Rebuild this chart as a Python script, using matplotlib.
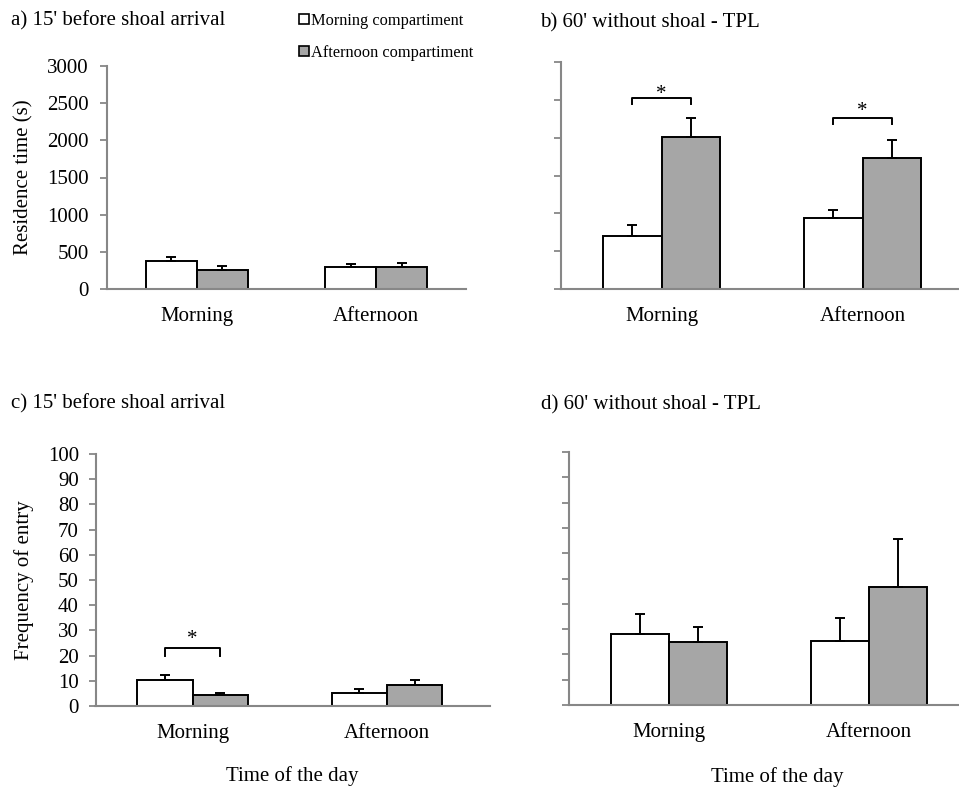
import numpy as np
import matplotlib
matplotlib.use('Agg')
import matplotlib.pyplot as plt
import matplotlib.transforms as mtransforms
from matplotlib.patches import Patch

plt.rcParams['font.family'] = ['Liberation Serif', 'DejaVu Serif']
plt.rcParams['font.size'] = 15

# data
times = ['Morning', 'Afternoon']
series = ['Morning compartiment', 'Afternoon compartiment']

res_15_morning = [375, 300]
res_15_morning_err = [60, 32]
res_15_afternoon = [250, 300]
res_15_afternoon_err = [60, 55]

res_60_morning = [705, 935]
res_60_morning_err = [145, 110]
res_60_afternoon = [2015, 1735]
res_60_afternoon_err = [245, 240]

freq_15_morning = [10.5, 5.3]
freq_15_morning_err = [1.8, 1.5]
freq_15_afternoon = [4.2, 8.5]
freq_15_afternoon_err = [1.1, 1.8]

freq_60_morning = [28.0, 25.1]
freq_60_morning_err = [7.8, 9.1]
freq_60_afternoon = [24.8, 46.7]
freq_60_afternoon_err = [6.1, 18.9]

# significance brackets: (group index, bracket height, drop, star height)
sig_b = [(0, 2520, 70, 2449), (1, 2255, 70, 2218)]
sig_c = [(0, 23, 3, 22.8)]

GREY = '#a6a6a6'
SPINE = '#878787'

W, H = 959, 789
fig = plt.figure(figsize=(W / 100, H / 100), dpi=100)


def px_axes(left, top, right, bottom):
    return fig.add_axes([left / W, 1 - bottom / H, (right - left) / W, (bottom - top) / H])


def draw_panel(ax, m, m_err, a, a_err, ymax, step, xlim, bw, show_labels, ypad):
    x = np.arange(len(times))
    ax.bar(x - bw / 2, m, bw, color='white', edgecolor='black', linewidth=1.4, zorder=2)
    ax.bar(x + bw / 2, a, bw, color=GREY, edgecolor='black', linewidth=1.4, zorder=2)
    for xs, vals, errs in [(x - bw / 2, m, m_err), (x + bw / 2, a, a_err)]:
        ax.errorbar(xs, vals, yerr=[np.zeros(len(errs)), errs], fmt='none',
                    ecolor='black', elinewidth=1.4, capsize=3.3, capthick=1.4, zorder=3)
    ax.set_xlim(*xlim)
    ax.set_ylim(0, ymax)
    ax.set_yticks(np.arange(0, ymax + step / 2, step))
    if not show_labels:
        ax.set_yticklabels([])
    ax.set_xticks(x)
    ax.set_xticklabels(times)
    ax.tick_params(axis='x', length=0, pad=13)
    ax.tick_params(axis='y', length=5, width=1.3, color=SPINE, pad=ypad)
    for s in ['top', 'right']:
        ax.spines[s].set_visible(False)
    for s in ['left', 'bottom']:
        ax.spines[s].set_color(SPINE)
        ax.spines[s].set_linewidth(1.5)
    ax.spines['bottom'].set_zorder(4)
    ax.patch.set_alpha(0)


def draw_sig(ax, sigs, bw):
    for i, h, d, s in sigs:
        x0, x1 = i - bw / 2, i + bw / 2
        ax.plot([x0, x0, x1, x1], [h - d, h, h, h - d], color='black', lw=1.4,
                clip_on=False, zorder=3)
        ax.text(i, s, '*', ha='center', va='bottom', fontsize=15)


def ylabel_at(ax, text, xpx):
    ax.set_ylabel(text)
    tr = mtransforms.blended_transform_factory(fig.transFigure, ax.transAxes)
    ax.yaxis.set_label_coords(xpx / W, 0.5, transform=tr)


def xlabel_at(ax, text, xfrac, ypx):
    ax.set_xlabel(text)
    tr = mtransforms.blended_transform_factory(ax.transAxes, fig.transFigure)
    ax.xaxis.set_label_coords(xfrac, 1 - ypx / H, transform=tr)


ax_a = px_axes(107, 66, 466, 289)
draw_panel(ax_a, res_15_morning, res_15_morning_err, res_15_afternoon, res_15_afternoon_err,
           3000, 500, (-0.5, 1.5), 0.285, True, 8)
ylabel_at(ax_a, 'Residence time (s)', 33)

ax_b = px_axes(561, 62, 959, 289)
draw_panel(ax_b, res_60_morning, res_60_morning_err, res_60_afternoon, res_60_afternoon_err,
           3000, 500, (-0.5, 1.48), 0.29, False, 8)
draw_sig(ax_b, sig_b, 0.29)

ax_c = px_axes(95.5, 454, 490, 706)
draw_panel(ax_c, freq_15_morning, freq_15_morning_err, freq_15_afternoon, freq_15_afternoon_err,
           100, 10, (-0.5, 1.53), 0.285, True, 7)
draw_sig(ax_c, sig_c, 0.285)
ylabel_at(ax_c, 'Frequency of entry', 34)
xlabel_at(ax_c, 'Time of the day', 0.5, 766)

ax_d = px_axes(569, 452, 959, 705)
draw_panel(ax_d, freq_60_morning, freq_60_morning_err, freq_60_afternoon, freq_60_afternoon_err,
           100, 10, (-0.5, 1.45), 0.29, False, 7)
xlabel_at(ax_d, 'Time of the day', 0.534, 767)

fig.text(11 / W, 1 - 25 / H, "a) 15' before shoal arrival", fontsize=15, va='baseline')
fig.text(540 / W, 1 - 27 / H, "b) 60' without shoal - TPL", fontsize=15, va='baseline')
fig.text(11 / W, 1 - 408 / H, "c) 15' before shoal arrival", fontsize=15, va='baseline')
fig.text(541 / W, 1 - 409 / H, "d) 60' without shoal - TPL", fontsize=15, va='baseline')

handles = [Patch(facecolor='white', edgecolor='black', linewidth=1.2),
           Patch(facecolor=GREY, edgecolor='black', linewidth=1.2)]
fig.legend(handles, series, loc='upper left', bbox_to_anchor=(299 / W, 1 - 13 / H),
           frameon=False, fontsize=11.8, handlelength=0.6, handleheight=0.6,
           handletextpad=0.15, labelspacing=0.95, borderpad=0, borderaxespad=0)

fig.savefig('out.png', dpi=100)
